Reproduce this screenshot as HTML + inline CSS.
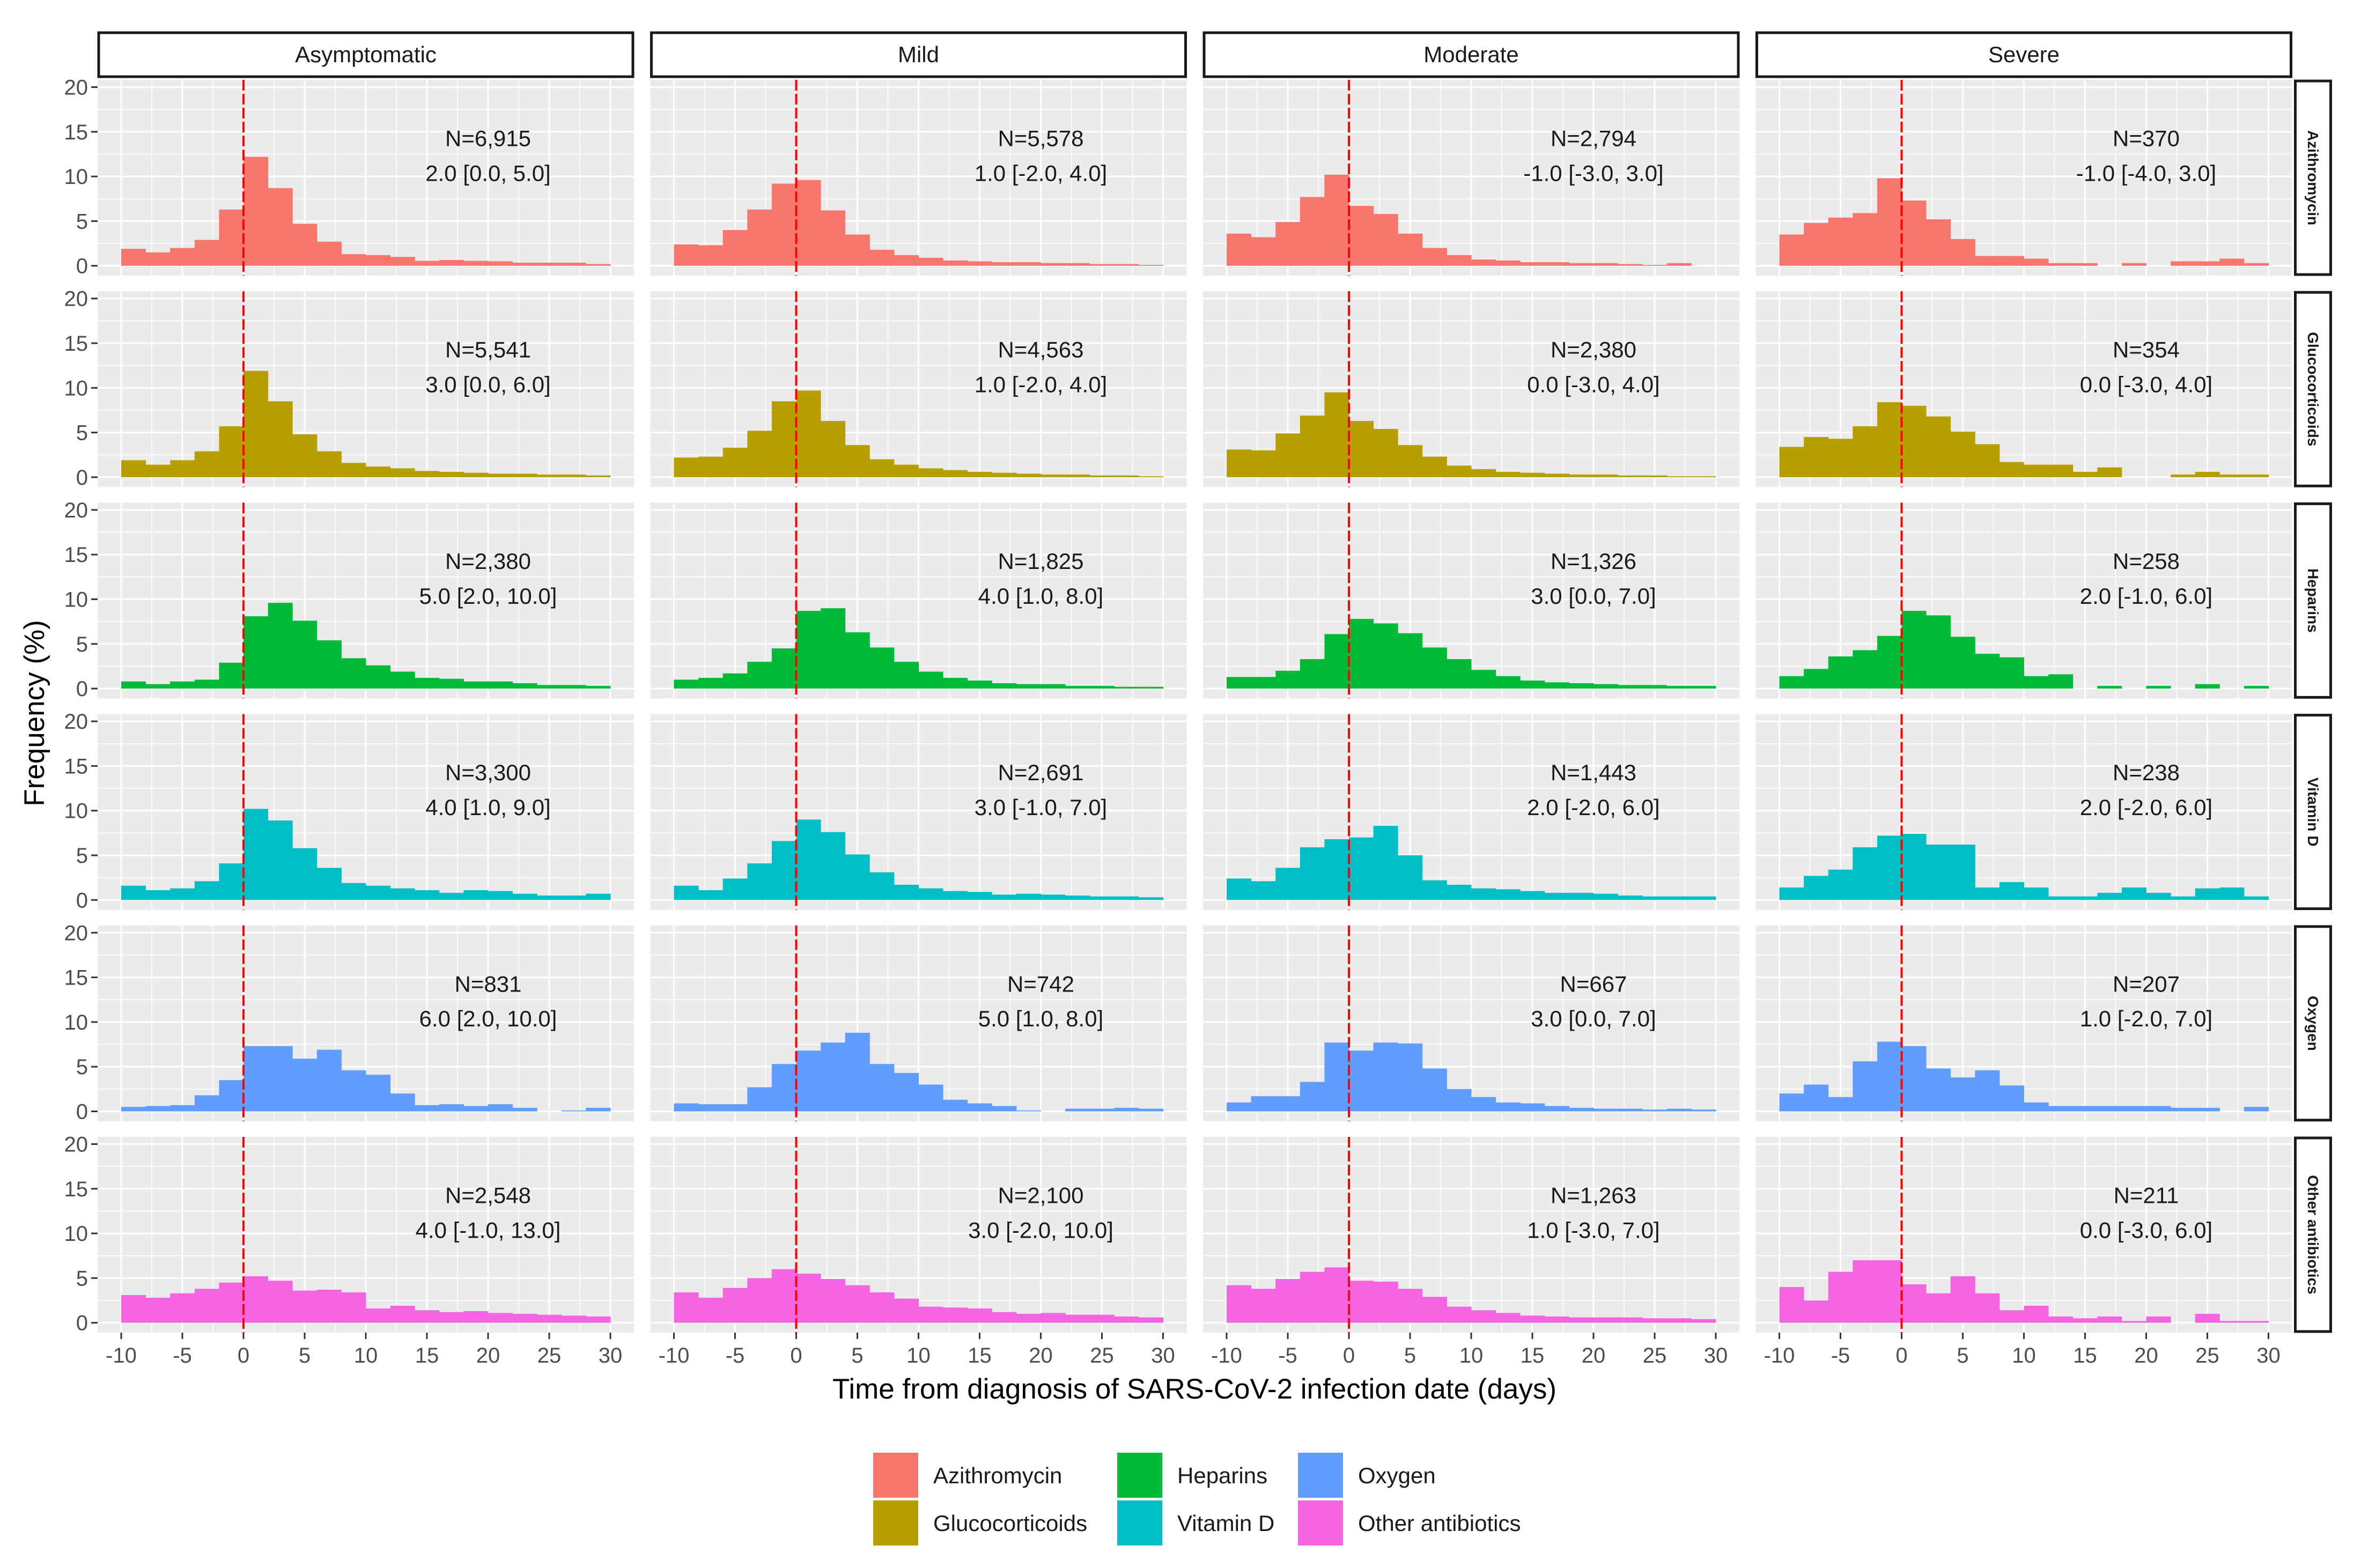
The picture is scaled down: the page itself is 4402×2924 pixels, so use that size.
<!DOCTYPE html>
<html><head><meta charset="utf-8">
<style>
html,body{margin:0;padding:0;background:#fff;}
svg{display:block;font-family:"Liberation Sans",Arial,sans-serif;}
</style></head>
<body>
<svg id="chart" width="4402" height="2924" viewBox="0 0 4402 2924" xmlns="http://www.w3.org/2000/svg"></svg>
<script>
const severities = ["Asymptomatic","Mild","Moderate","Severe"];
const drugs = ["Azithromycin","Glucocorticoids","Heparins","Vitamin D","Oxygen","Other antibiotics"];
const colors = ["#F8766D","#B79F00","#00BA38","#00BFC4","#619CFF","#F564E3"];
const binStarts = [-10,-8,-6,-4,-2,0,2,4,6,8,10,12,14,16,18,20,22,24,26,28];
const xTicks = [-10,-5,0,5,10,15,20,25,30];
const yTicks = [0,5,10,15,20];
const azithromycin = [
 [1.9,1.5,2.0,2.9,6.3,12.2,8.7,4.7,2.7,1.3,1.2,1.0,0.55,0.65,0.55,0.5,0.35,0.35,0.35,0.2],
 [2.4,2.3,4.0,6.3,9.2,9.6,6.2,3.5,1.8,1.2,0.9,0.6,0.5,0.4,0.4,0.3,0.3,0.2,0.2,0.1],
 [3.6,3.2,4.9,7.7,10.2,6.7,5.8,3.6,2.0,1.2,0.7,0.6,0.4,0.4,0.3,0.3,0.2,0.1,0.3,0],
 [3.5,4.8,5.4,5.9,9.8,7.3,5.2,3.0,1.1,1.1,0.8,0.3,0.3,0,0.3,0,0.5,0.5,0.8,0.3]];
const glucocorticoids = [
 [1.9,1.4,1.9,2.9,5.7,11.9,8.5,4.8,2.9,1.6,1.2,1.0,0.7,0.6,0.5,0.4,0.4,0.3,0.3,0.2],
 [2.2,2.3,3.3,5.2,8.5,9.7,6.3,3.6,2.0,1.4,1.0,0.8,0.6,0.5,0.4,0.3,0.3,0.2,0.2,0.1],
 [3.1,3.0,4.9,6.9,9.5,6.3,5.4,3.6,2.3,1.3,0.9,0.6,0.5,0.4,0.3,0.3,0.2,0.2,0.1,0.1],
 [3.4,4.5,4.3,5.7,8.4,8.0,6.8,5.1,3.7,1.7,1.4,1.4,0.6,1.1,0,0,0.3,0.6,0.3,0.3]];
const heparins = [
 [0.8,0.5,0.8,1.0,2.9,8.1,9.6,7.6,5.4,3.4,2.6,1.9,1.2,1.1,0.8,0.8,0.6,0.4,0.4,0.3],
 [1.0,1.2,1.7,3.0,4.5,8.7,9.0,6.3,4.6,3.0,1.9,1.2,0.9,0.6,0.5,0.5,0.3,0.3,0.2,0.2],
 [1.3,1.3,2.0,3.3,6.1,7.8,7.3,6.2,4.6,3.3,2.1,1.4,0.9,0.7,0.6,0.5,0.4,0.4,0.3,0.3],
 [1.4,2.2,3.6,4.3,5.9,8.7,8.2,5.8,3.9,3.5,1.4,1.6,0,0.3,0,0.3,0,0.5,0,0.3]];
const vitaminD = [
 [1.6,1.1,1.3,2.1,4.1,10.2,8.9,5.8,3.6,1.9,1.6,1.3,1.1,0.8,1.1,1.0,0.7,0.5,0.5,0.7],
 [1.6,1.1,2.4,4.1,6.6,9.0,7.6,5.1,3.1,1.7,1.3,1.0,0.9,0.6,0.7,0.6,0.5,0.4,0.4,0.3],
 [2.4,2.1,3.6,5.9,6.8,7.0,8.3,5.0,2.2,1.7,1.3,1.2,1.0,0.8,0.8,0.7,0.5,0.4,0.4,0.4],
 [1.4,2.7,3.4,5.9,7.2,7.4,6.2,6.2,1.4,2.0,1.4,0.4,0.4,0.8,1.4,0.8,0.4,1.3,1.4,0.4]];
const oxygen = [
 [0.5,0.6,0.7,1.8,3.5,7.3,7.3,5.9,6.9,4.6,4.1,2.0,0.7,0.8,0.6,0.8,0.4,0,0.1,0.4],
 [0.9,0.8,0.8,2.7,5.3,6.8,7.7,8.8,5.3,4.3,3.0,1.3,0.9,0.6,0.1,0,0.3,0.3,0.4,0.3],
 [1.0,1.7,1.7,3.3,7.7,6.8,7.7,7.6,4.8,2.5,1.6,1.0,0.9,0.6,0.4,0.3,0.3,0.2,0.3,0.2],
 [2.0,3.0,1.6,5.6,7.8,7.3,4.8,3.8,4.6,2.9,1.0,0.6,0.6,0.6,0.6,0.6,0.4,0.4,0,0.5]];
const otherAntibiotics = [
 [3.1,2.8,3.3,3.8,4.5,5.2,4.7,3.6,3.7,3.4,1.6,1.9,1.4,1.2,1.3,1.1,1.0,0.9,0.8,0.7],
 [3.4,2.8,3.9,5.0,6.0,5.5,4.9,4.2,3.4,2.7,1.8,1.7,1.6,1.2,1.0,1.1,0.9,0.9,0.7,0.6],
 [4.2,3.8,4.9,5.7,6.2,4.7,4.6,3.8,2.9,1.8,1.4,1.1,0.8,0.7,0.6,0.6,0.6,0.5,0.5,0.4],
 [4.0,2.5,5.7,7.0,7.0,4.3,3.3,5.2,3.3,1.4,1.9,0.7,0.5,0.7,0.2,0.7,0,1.0,0.2,0.2]];
const seriesByDrug = [azithromycin,glucocorticoids,heparins,vitaminD,oxygen,otherAntibiotics];
const nLabels = [
 ["N=6,915","N=5,578","N=2,794","N=370"],
 ["N=5,541","N=4,563","N=2,380","N=354"],
 ["N=2,380","N=1,825","N=1,326","N=258"],
 ["N=3,300","N=2,691","N=1,443","N=238"],
 ["N=831","N=742","N=667","N=207"],
 ["N=2,548","N=2,100","N=1,263","N=211"]];
const medianLabels = [
 ["2.0 [0.0, 5.0]","1.0 [-2.0, 4.0]","-1.0 [-3.0, 3.0]","-1.0 [-4.0, 3.0]"],
 ["3.0 [0.0, 6.0]","1.0 [-2.0, 4.0]","0.0 [-3.0, 4.0]","0.0 [-3.0, 4.0]"],
 ["5.0 [2.0, 10.0]","4.0 [1.0, 8.0]","3.0 [0.0, 7.0]","2.0 [-1.0, 6.0]"],
 ["4.0 [1.0, 9.0]","3.0 [-1.0, 7.0]","2.0 [-2.0, 6.0]","2.0 [-2.0, 6.0]"],
 ["6.0 [2.0, 10.0]","5.0 [1.0, 8.0]","3.0 [0.0, 7.0]","1.0 [-2.0, 7.0]"],
 ["4.0 [-1.0, 13.0]","3.0 [-2.0, 10.0]","1.0 [-3.0, 7.0]","0.0 [-3.0, 6.0]"]];

const NS="http://www.w3.org/2000/svg";
const svg=document.getElementById('chart');
function mk(tag,attrs,parent){const e=document.createElementNS(NS,tag);for(const k in attrs)e.setAttribute(k,attrs[k]);(parent||svg).appendChild(e);return e;}
const colX0=182, colPitch=1030.5, panelW=1000;
const rowY0=149, rowPitch=394.2, panelH=365;
const xMin=-11.93, xMax=31.93, yMin=-1.1, yMax=20.81;
function sx(c,v){return colX0+c*colPitch+(v-xMin)/(xMax-xMin)*panelW;}
function sy(r,v){return rowY0+r*rowPitch+(yMax-v)/(yMax-yMin)*panelH;}

// top strips
severities.forEach((s,c)=>{
  const g=mk('g',{});
  
  
  mk('rect',{x:colX0+c*colPitch+2,y:61,width:panelW-4,height:82,fill:'#fff',stroke:'#1a1a1a','stroke-width':5},g);
  const t=mk('text',{x:colX0+c*colPitch+panelW/2,y:116,'text-anchor':'middle','font-size':42,fill:'#1a1a1a'},g);
  t.textContent=s;
});
// right strips
drugs.forEach((d,r)=>{
  const g=mk('g',{});
  
  
  const x=colX0+3*colPitch+panelW+6, y=rowY0+r*rowPitch+2;
  mk('rect',{x:x,y:y,width:66,height:panelH-4,fill:'#fff',stroke:'#1a1a1a','stroke-width':5},g);
  const cx=x+33, cy=y+(panelH-4)/2;
  const t=mk('text',{x:cx,y:cy,'text-anchor':'middle','dominant-baseline':'central','font-size':28,'font-weight':'bold',fill:'#1a1a1a',transform:`rotate(90 ${cx} ${cy})`},g);
  t.textContent=d;
});

drugs.forEach((d,r)=>{
  severities.forEach((s,c)=>{
    const g=mk('g',{});
    
    
    const px=colX0+c*colPitch, py=rowY0+r*rowPitch;
    mk('rect',{x:px,y:py,width:panelW,height:panelH,fill:'#EBEBEB'},g);
    // minor grid
    for(let v=2.5;v<20;v+=5) mk('line',{x1:px,x2:px+panelW,y1:sy(r,v),y2:sy(r,v),stroke:'#fff','stroke-width':1.5},g);
    for(let v=-12.5;v<=32.5;v+=5){const xx=sx(c,v); if(xx>px&&xx<px+panelW) mk('line',{x1:xx,x2:xx,y1:py,y2:py+panelH,stroke:'#fff','stroke-width':1.5},g);}
    yTicks.forEach(v=>mk('line',{x1:px,x2:px+panelW,y1:sy(r,v),y2:sy(r,v),stroke:'#fff','stroke-width':3},g));
    xTicks.forEach(v=>mk('line',{x1:sx(c,v),x2:sx(c,v),y1:py,y2:py+panelH,stroke:'#fff','stroke-width':3},g));
    const vals=seriesByDrug[r][c];
    vals.forEach((v,i)=>{
      if(v<=0) return;
      const b=mk('rect',{x:sx(c,binStarts[i]),y:sy(r,v),width:sx(c,binStarts[i]+2)-sx(c,binStarts[i])+0.5,height:sy(r,0)-sy(r,v),fill:colors[r]},g);
      
      
    });
    const ref=mk('line',{x1:sx(c,0),x2:sx(c,0),y1:py,y2:py+panelH,stroke:'#FF0000','stroke-width':4,'stroke-dasharray':'20 6'},g);
    
    
    const t1=mk('text',{x:sx(c,20),y:sy(r,14.3)+15,'text-anchor':'middle','font-size':42,fill:'#1a1a1a'},g);
    t1.textContent=nLabels[r][c];
    
    
    const t2=mk('text',{x:sx(c,20),y:sy(r,10.4)+15,'text-anchor':'middle','font-size':42,fill:'#1a1a1a'},g);
    t2.textContent=medianLabels[r][c];
    
    
    if(c===0){
      yTicks.forEach(v=>{
        mk('line',{x1:px-12,x2:px,y1:sy(r,v),y2:sy(r,v),stroke:'#333','stroke-width':3},g);
        const t=mk('text',{x:px-18,y:sy(r,v)+14,'text-anchor':'end','font-size':40,fill:'#4d4d4d'},g);
        t.textContent=v;
        
        
      });
    }
    if(r===drugs.length-1){
      xTicks.forEach(v=>{
        mk('line',{x1:sx(c,v),x2:sx(c,v),y1:py+panelH,y2:py+panelH+12,stroke:'#333','stroke-width':3},g);
        const t=mk('text',{x:sx(c,v),y:py+panelH+56,'text-anchor':'middle','font-size':40,fill:'#4d4d4d'},g);
        t.textContent=v;
        
        
      });
    }
  });
});

const xt=mk('text',{x:2227,y:2608,'text-anchor':'middle','font-size':53,fill:'#000'});
xt.textContent='Time from diagnosis of SARS-CoV-2 infection date (days)';


const yt=mk('text',{x:0,y:0,'text-anchor':'middle','font-size':53,fill:'#000',transform:'translate(82 1330) rotate(-90)'});
yt.textContent='Frequency (%)';



// legend
const legendPos=[[1628,2709],[1628,2798],[2083,2709],[2083,2798],[2420,2709],[2420,2798]];
const legendOrder=[0,1,2,3,4,5];
legendOrder.forEach((k,i)=>{
  const g=mk('g',{});
  
  
  const [lx,ly]=legendPos[i];
  mk('rect',{x:lx,y:ly,width:84,height:84,fill:colors[k]},g);
  const t=mk('text',{x:lx+112,y:ly+57,'font-size':42,fill:'#1a1a1a'},g);
  t.textContent=drugs[k];
});
</script>
</body></html>
